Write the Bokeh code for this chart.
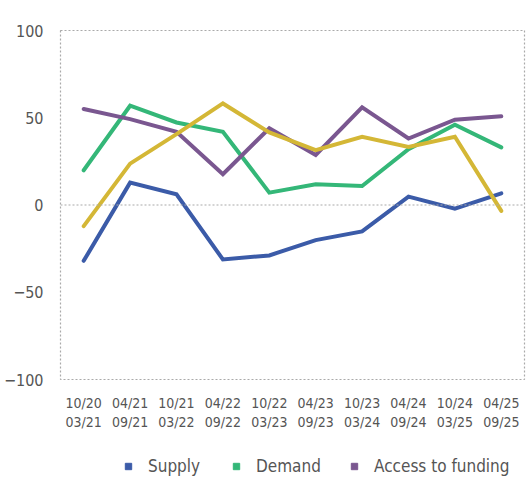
from bokeh.plotting import figure
from bokeh.layouts import column
from bokeh.models import Legend, LegendItem, FixedTicker, Range1d, Span
from bokeh.embed import file_html
from bokeh.resources import INLINE

periods = ["10/20\n03/21", "04/21\n09/21", "10/21\n03/22", "04/22\n09/22", "10/22\n03/23",
           "04/23\n09/23", "10/23\n03/24", "04/24\n09/24", "10/24\n03/25", "04/25\n09/25"]
supply = [-32, 12.8, 6.1, -31.2, -28.9, -20.1, -15.1, 4.8, -2.1, 6.7]
demand = [19.9, 56.9, 47.3, 42.0, 7.1, 11.9, 10.9, 32.0, 46.0, 33.0]
access = [55.0, 49.2, 42.0, 17.6, 44.0, 28.7, 55.9, 38.1, 48.9, 50.8]
npl = [-12.1, 23.7, 40.6, 58.2, 41.6, 31.4, 39.1, 33.3, 39.1, -3.4]
y_ticks = [-100, -50, 0, 50, 100]

series = [("Supply", supply, "#3B5BA8"), ("Demand", demand, "#34B778"),
          ("Access to funding", access, "#7A5790"), ("NPL", npl, "#D4B736")]
legend_x = [60, 168, 286, 470]

FONT = "Liberation Sans Narrow, DejaVu Sans Condensed, Roboto"
GRAY = "#555555"
NAN = float("nan")

# main chart
p = figure(width=529, height=440, output_backend="svg", toolbar_location=None,
           x_range=Range1d(-0.5, len(periods) - 0.5), y_range=Range1d(-100, 100),
           min_border_left=60, min_border_top=30, min_border_right=5, min_border_bottom=61)

xs = list(range(len(periods)))
for name, vals, color in series:
    p.line(xs, vals, line_color=color, line_width=4, line_join="miter", line_cap="round")

p.grid.visible = False
p.add_layout(Span(location=0, dimension="width", line_color="#aaaaaa", line_width=1.2, line_dash="2 2"))
p.outline_line_color = "#aaaaaa"
p.outline_line_width = 1.2
p.outline_line_dash = "2 2"

p.xaxis.ticker = FixedTicker(ticks=xs)
p.xaxis.major_label_overrides = {i: lab for i, lab in enumerate(periods)}
p.yaxis.ticker = FixedTicker(ticks=y_ticks)
for ax in (p.xaxis, p.yaxis):
    ax.axis_line_color = None
    ax.major_tick_line_color = None
    ax.minor_tick_line_color = None
    ax.major_tick_in = 0
    ax.major_tick_out = 0
    ax.minor_tick_in = 0
    ax.minor_tick_out = 0
    ax.major_label_text_font = FONT
    ax.major_label_text_color = GRAY
p.xaxis.major_label_text_font_size = "14px"
p.xaxis.major_label_standoff = 15
p.yaxis.major_label_text_font_size = "16px"
p.yaxis.major_label_standoff = 17

# legend strip
leg = figure(width=529, height=40, output_backend="svg", toolbar_location=None,
             x_axis_type=None, y_axis_type=None,
             x_range=Range1d(0, 1), y_range=Range1d(0, 1), min_border=0)
leg.grid.visible = False
leg.outline_line_color = None
for (name, vals, color), lx in zip(series, legend_x):
    sq = leg.scatter(x=[NAN], y=[NAN], marker="square", size=16, fill_color=color, line_color=color)
    lg = Legend(items=[LegendItem(label=name, renderers=[sq])], location=(lx, 4))
    lg.label_text_font = FONT
    lg.label_text_font_size = "17px"
    lg.label_text_color = GRAY
    lg.glyph_width = 16
    lg.glyph_height = 16
    lg.label_standoff = 12
    lg.border_line_color = None
    lg.background_fill_alpha = 0
    lg.margin = 0
    lg.padding = 0
    leg.add_layout(lg)

layout = column(p, leg, spacing=0)
open("out.html", "w").write(file_html(layout, INLINE))
